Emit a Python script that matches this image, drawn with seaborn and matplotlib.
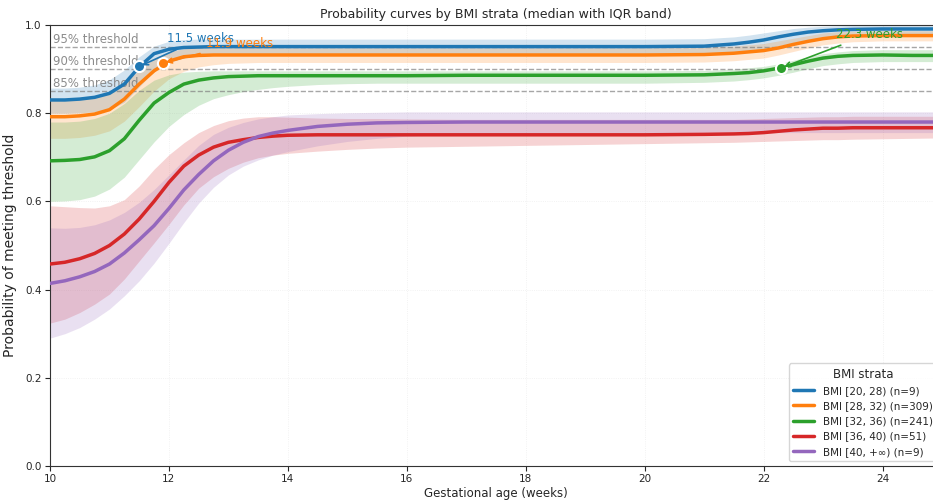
import numpy as np
import pandas as pd
import matplotlib
matplotlib.use("Agg")
import matplotlib.pyplot as plt
import seaborn as sns

# ---------------- data ----------------
weeks = [10, 10.25, 10.5, 10.75, 11, 11.25, 11.5, 11.75, 12, 12.25, 12.5, 12.75,
         13, 13.25, 13.5, 13.75, 14, 14.5, 15, 15.5, 16, 17, 18, 19, 20, 21,
         21.5, 21.75, 22, 22.25, 22.5, 22.75, 23, 23.25, 23.5, 24, 24.5, 25]

strata = ["BMI [20, 28) (n=9)", "BMI [28, 32) (n=309)", "BMI [32, 36) (n=241)",
          "BMI [36, 40) (n=51)", "BMI [40, +\u221e) (n=9)"]

med_20_28 = [0.830, 0.830, 0.832, 0.836, 0.845, 0.866, 0.905, 0.935, 0.945, 0.949, 0.950, 0.951,
             0.951, 0.951, 0.951, 0.951, 0.951, 0.951, 0.951, 0.951, 0.951, 0.951, 0.951, 0.951, 0.951, 0.952,
             0.957, 0.961, 0.966, 0.973, 0.979, 0.984, 0.987, 0.989, 0.990, 0.991, 0.991, 0.991]
q75_20_28 = [0.857, 0.857, 0.859, 0.864, 0.876, 0.898, 0.928, 0.952, 0.963, 0.967, 0.968, 0.968,
             0.968, 0.968, 0.968, 0.968, 0.968, 0.968, 0.968, 0.968, 0.968, 0.968, 0.968, 0.968, 0.968, 0.969,
             0.973, 0.977, 0.982, 0.987, 0.992, 0.995, 0.997, 0.998, 0.999, 0.999, 0.999, 0.999]
q25_20_28 = [0.800, 0.800, 0.801, 0.803, 0.808, 0.825, 0.860, 0.895, 0.915, 0.925, 0.930, 0.931,
             0.932, 0.932, 0.932, 0.932, 0.932, 0.932, 0.932, 0.932, 0.932, 0.932, 0.932, 0.932, 0.932, 0.934,
             0.938, 0.941, 0.946, 0.953, 0.960, 0.966, 0.970, 0.972, 0.974, 0.975, 0.975, 0.975]

med_28_32 = [0.792, 0.792, 0.794, 0.798, 0.808, 0.832, 0.866, 0.896, 0.918, 0.928, 0.931, 0.932,
             0.932, 0.932, 0.932, 0.932, 0.932, 0.932, 0.932, 0.932, 0.932, 0.932, 0.932, 0.932, 0.932, 0.933,
             0.936, 0.939, 0.942, 0.948, 0.956, 0.963, 0.969, 0.973, 0.975, 0.976, 0.976, 0.976]
q75_28_32 = [0.832, 0.832, 0.834, 0.839, 0.848, 0.868, 0.898, 0.925, 0.940, 0.946, 0.948, 0.948,
             0.948, 0.948, 0.948, 0.948, 0.948, 0.948, 0.948, 0.948, 0.948, 0.948, 0.948, 0.948, 0.948, 0.949,
             0.952, 0.955, 0.958, 0.964, 0.970, 0.976, 0.982, 0.985, 0.986, 0.987, 0.987, 0.987]
q25_28_32 = [0.743, 0.743, 0.745, 0.750, 0.760, 0.782, 0.815, 0.850, 0.878, 0.895, 0.905, 0.910,
             0.913, 0.914, 0.915, 0.915, 0.915, 0.915, 0.915, 0.915, 0.915, 0.915, 0.915, 0.915, 0.915, 0.916,
             0.919, 0.922, 0.925, 0.932, 0.940, 0.948, 0.955, 0.959, 0.962, 0.964, 0.964, 0.964]

med_32_36 = [0.692, 0.693, 0.695, 0.701, 0.715, 0.742, 0.784, 0.823, 0.847, 0.866, 0.875, 0.880,
             0.883, 0.884, 0.885, 0.885, 0.885, 0.885, 0.885, 0.885, 0.885, 0.886, 0.886, 0.886, 0.886, 0.887,
             0.890, 0.892, 0.896, 0.902, 0.910, 0.918, 0.925, 0.929, 0.931, 0.932, 0.931, 0.931]
q75_32_36 = [0.780, 0.780, 0.782, 0.788, 0.800, 0.822, 0.852, 0.875, 0.887, 0.893, 0.895, 0.896,
             0.896, 0.896, 0.896, 0.896, 0.896, 0.896, 0.896, 0.896, 0.896, 0.896, 0.896, 0.896, 0.896, 0.897,
             0.900, 0.903, 0.906, 0.912, 0.920, 0.928, 0.935, 0.939, 0.942, 0.944, 0.944, 0.944]
q25_32_36 = [0.600, 0.601, 0.604, 0.612, 0.628, 0.655, 0.695, 0.735, 0.770, 0.797, 0.818, 0.833,
             0.842, 0.849, 0.854, 0.858, 0.861, 0.865, 0.867, 0.868, 0.868, 0.868, 0.868, 0.868, 0.868, 0.870,
             0.873, 0.876, 0.880, 0.886, 0.893, 0.901, 0.908, 0.912, 0.915, 0.917, 0.917, 0.917]

med_36_40 = [0.458, 0.462, 0.470, 0.482, 0.500, 0.526, 0.560, 0.600, 0.643, 0.680, 0.705, 0.723,
             0.734, 0.740, 0.745, 0.748, 0.750, 0.751, 0.751, 0.751, 0.751, 0.751, 0.751, 0.751, 0.751, 0.752,
             0.753, 0.754, 0.756, 0.759, 0.762, 0.764, 0.766, 0.766, 0.767, 0.767, 0.767, 0.767]
q75_36_40 = [0.590, 0.588, 0.586, 0.585, 0.590, 0.604, 0.635, 0.673, 0.706, 0.733, 0.756, 0.772,
             0.783, 0.789, 0.792, 0.792, 0.791, 0.789, 0.788, 0.788, 0.787, 0.786, 0.786, 0.786, 0.786, 0.786,
             0.786, 0.787, 0.788, 0.789, 0.790, 0.791, 0.792, 0.792, 0.793, 0.793, 0.793, 0.793]
q25_36_40 = [0.324, 0.333, 0.348, 0.367, 0.390, 0.424, 0.465, 0.506, 0.548, 0.592, 0.630, 0.656,
             0.675, 0.689, 0.699, 0.705, 0.709, 0.714, 0.718, 0.721, 0.723, 0.725, 0.727, 0.729, 0.731, 0.733,
             0.734, 0.735, 0.736, 0.737, 0.738, 0.739, 0.740, 0.740, 0.741, 0.742, 0.743, 0.744]

med_40_inf = [0.414, 0.420, 0.429, 0.441, 0.458, 0.483, 0.513, 0.545, 0.584, 0.626, 0.661, 0.692,
              0.716, 0.734, 0.747, 0.755, 0.761, 0.770, 0.775, 0.778, 0.779, 0.780, 0.780, 0.780, 0.780, 0.780,
              0.780, 0.780, 0.780, 0.780, 0.780, 0.780, 0.780, 0.780, 0.780, 0.780, 0.780, 0.780]
q75_40_inf = [0.540, 0.539, 0.541, 0.547, 0.558, 0.575, 0.598, 0.627, 0.660, 0.694, 0.727, 0.752,
              0.768, 0.779, 0.787, 0.792, 0.796, 0.799, 0.801, 0.802, 0.803, 0.803, 0.803, 0.803, 0.803, 0.803,
              0.803, 0.803, 0.803, 0.803, 0.803, 0.803, 0.803, 0.803, 0.803, 0.803, 0.803, 0.803]
q25_40_inf = [0.290, 0.300, 0.314, 0.333, 0.356, 0.386, 0.420, 0.460, 0.505, 0.552, 0.596, 0.632,
              0.660, 0.680, 0.694, 0.705, 0.713, 0.726, 0.736, 0.743, 0.748, 0.753, 0.755, 0.756, 0.756, 0.756,
              0.756, 0.756, 0.756, 0.756, 0.756, 0.756, 0.756, 0.756, 0.756, 0.756, 0.756, 0.756]

medians = [med_20_28, med_28_32, med_32_36, med_36_40, med_40_inf]
q25s = [q25_20_28, q25_28_32, q25_32_36, q25_36_40, q25_40_inf]
q75s = [q75_20_28, q75_28_32, q75_32_36, q75_36_40, q75_40_inf]

thresholds = [0.95, 0.90, 0.85]
threshold_labels = ["95% threshold", "90% threshold", "85% threshold"]

# first week reaching 90% threshold (annotated strata)
cross_idx = [0, 1, 2]
cross_weeks = [11.5, 11.9, 22.3]
cross_vals = [0.906, 0.914, 0.903]
cross_labels = ["11.5 weeks", "11.9 weeks", "22.3 weeks"]

# ---------------- plotting ----------------
sns.set_style("ticks")
plt.rcParams["font.family"] = ["DejaVu Sans"]

colors = ["#1f77b4", "#ff7f0e", "#2ca02c", "#d62728", "#9467bd"]

rows = []
for name, med in zip(strata, medians):
    for w, v in zip(weeks, med):
        rows.append({"week": w, "prob": v, "stratum": name})
df = pd.DataFrame(rows)

fig = plt.figure(figsize=(9.33, 5.01), dpi=100)
ax = fig.add_axes([50 / 933, 35 / 501, 892 / 933, 441 / 501])

for lo, hi, c in zip(q25s, q75s, colors):
    ax.fill_between(weeks, lo, hi, color=c, alpha=0.2, linewidth=0, zorder=1)

sns.lineplot(data=df, x="week", y="prob", hue="stratum", hue_order=strata,
             palette=colors, linewidth=2.5, errorbar=None, ax=ax, zorder=3)

for t, lab in zip(thresholds, threshold_labels):
    ax.axhline(t, color="gray", linestyle="--", linewidth=1.0, alpha=0.7, zorder=2)
    ax.text(10.05, t + 0.003, lab, color="gray", fontsize=8.5, alpha=0.9,
            ha="left", va="bottom", zorder=2)

offsets = [(20, 20), (31, 14), (39, 24)]
for i, w, v, lab, off in zip(cross_idx, cross_weeks, cross_vals, cross_labels, offsets):
    c = colors[i]
    ax.plot([w], [v], marker="o", markersize=8, color=c, markeredgecolor="white",
            markeredgewidth=1.5, zorder=5, linestyle="none")
    ax.annotate(lab, xy=(w, v), xytext=off, textcoords="offset points",
                color=c, fontsize=8.5, ha="left", va="center",
                arrowprops=dict(arrowstyle="->", color=c, lw=1.2), zorder=6)

ax.set_xlim(10, 25)
ax.set_ylim(0, 1.0)
ax.set_xticks([10, 12, 14, 16, 18, 20, 22, 24])
ax.set_yticks([0.0, 0.2, 0.4, 0.6, 0.8, 1.0])
ax.tick_params(labelsize=7.5, pad=2.5)
ax.grid(True, color="#dddddd", linewidth=0.6, alpha=0.5, linestyle=":")
for s in ax.spines.values():
    s.set_visible(True)
    s.set_color("#333333")

ax.set_xlabel("Gestational age (weeks)", fontsize=8.5, labelpad=2)
ax.set_ylabel("Probability of meeting threshold", fontsize=10, labelpad=6)
ax.set_title("Probability curves by BMI strata (median with IQR band)", fontsize=9, pad=5)

leg = ax.legend(title="BMI strata", loc="lower right", fontsize=7.5, title_fontsize=8.5,
                frameon=True)
for h in leg.get_lines():
    h.set_linewidth(2.5)

fig.savefig("out.png", dpi=100)
